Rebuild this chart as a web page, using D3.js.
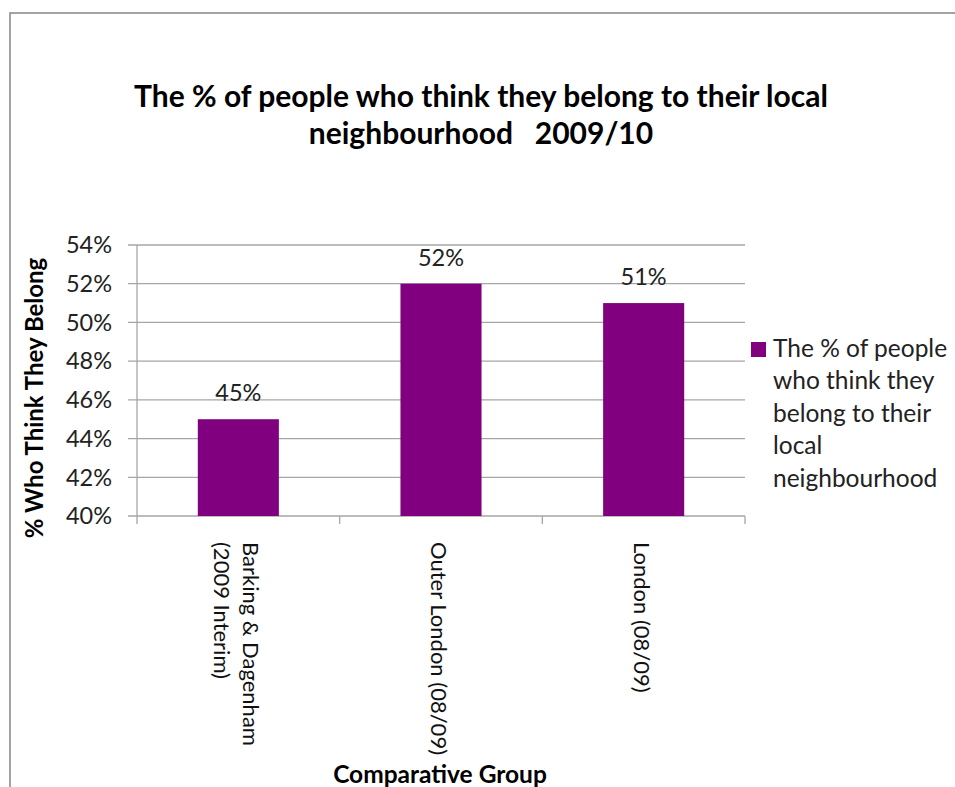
<!DOCTYPE html>
<html><head><meta charset="utf-8">
<script src="https://cdn.jsdelivr.net/npm/d3@7"></script>
<style>
html,body{margin:0;padding:0;background:#fff;}
svg{display:block;font-family:Lato,"Open Sans",sans-serif;}
</style></head><body>
<svg id="chart" width="955" height="787"></svg>
<script>
const categories = [["Barking & Dagenham","(2009 Interim)"],["Outer London (08/09)"],["London (08/09)"]];
const values = [0.45, 0.52, 0.51];
const yTicks = [0.40,0.42,0.44,0.46,0.48,0.50,0.52,0.54];
const titleLines = ["The % of people who think they belong to their local","neighbourhood   2009/10"];
const legendLines = ["The % of people","who think they","belong to their","local","neighbourhood"];
const yTitle = "% Who Think They Belong";
const xTitle = "Comparative Group";

const svg = d3.select("#chart");
const barColor = "#800080";
const gridColor = "#a6a6a6";
const plot = {left:137, right:745, top:245, bottom:516};

// outer frame
svg.append("rect").attr("x",10).attr("y",13).attr("width",1000).attr("height",900)
  .attr("fill","none").attr("stroke","#8c8c8c").attr("stroke-width",1.6);

// title
const title = svg.append("text").attr("text-anchor","middle").attr("font-weight","bold")
  .attr("font-size",30).attr("fill","#000");
titleLines.forEach((t,i)=>title.append("tspan").attr("x",481).attr("y",107+i*37).style("white-space","pre").text(t));

const x = d3.scaleBand().domain(d3.range(categories.length)).range([plot.left,plot.right])
  .paddingInner(0.6).paddingOuter(0.3);
const step = x.step();
const y = d3.scaleLinear().domain([0.40,0.54]).range([plot.bottom,plot.top]);

// gridlines
svg.append("g").selectAll("line").data(yTicks).join("line")
  .attr("x1",plot.left-9).attr("x2",plot.right).attr("y1",d=>y(d)).attr("y2",d=>y(d))
  .attr("stroke",gridColor).attr("stroke-width",1.3);

// y axis line
svg.append("line").attr("x1",plot.left).attr("x2",plot.left).attr("y1",plot.top).attr("y2",plot.bottom)
  .attr("stroke",gridColor).attr("stroke-width",1.3);
// x axis category ticks
const bounds = d3.range(categories.length+1).map(i=>plot.left+i*step);
svg.append("g").selectAll("line").data(bounds).join("line")
  .attr("x1",d=>d).attr("x2",d=>d).attr("y1",plot.bottom).attr("y2",plot.bottom+8)
  .attr("stroke",gridColor).attr("stroke-width",1.3);

// y tick labels
svg.append("g").selectAll("text").data(yTicks).join("text")
  .attr("x",plot.left-25).attr("y",d=>y(d)).attr("dy","0.35em").attr("text-anchor","end")
  .attr("font-size",23.5).attr("fill","#222").text(d=>d3.format(".0%")(d));

// bars
svg.append("g").selectAll("rect").data(values).join("rect")
  .attr("x",(d,i)=>x(i)).attr("width",x.bandwidth())
  .attr("y",d=>y(d)).attr("height",d=>y(0.40)-y(d)).attr("fill",barColor);

// data labels
svg.append("g").selectAll("text").data(values).join("text")
  .attr("x",(d,i)=>x(i)+x.bandwidth()/2).attr("y",d=>y(d)-18).attr("text-anchor","middle")
  .attr("font-size",23.5).attr("fill","#222").text(d=>d3.format(".0%")(d));

// category labels (rotated 90deg)
categories.forEach((lines,i)=>{
  const cx = x(i)+x.bandwidth()/2;
  const n = lines.length;
  lines.forEach((t,j)=>{
    const off = (n-1)/2*29 - j*29; // first line to the right
    svg.append("text").attr("transform",`translate(${cx+off-2},542) rotate(90)`)
      .attr("dy","0.35em").attr("text-anchor","start").attr("font-size",22).attr("fill","#111").text(t);
  });
});

// axis titles
svg.append("text").attr("transform","translate(35,398) rotate(-90)").attr("dy","0.35em")
  .attr("text-anchor","middle").attr("font-weight","bold").attr("font-size",24).attr("fill","#000").text(yTitle);
svg.append("text").attr("x",440).attr("y",783).attr("text-anchor","middle")
  .attr("font-weight","bold").attr("font-size",24.5).attr("fill","#000").text(xTitle);

// legend
svg.append("rect").attr("x",751).attr("y",342).attr("width",15).attr("height",15).attr("fill",barColor);
const leg = svg.append("text").attr("font-size",24.5).attr("fill","#222");
legendLines.forEach((t,i)=>leg.append("tspan").attr("x",773).attr("y",348+i*32.5).attr("dy","0.35em").text(t));
</script>
</body></html>
